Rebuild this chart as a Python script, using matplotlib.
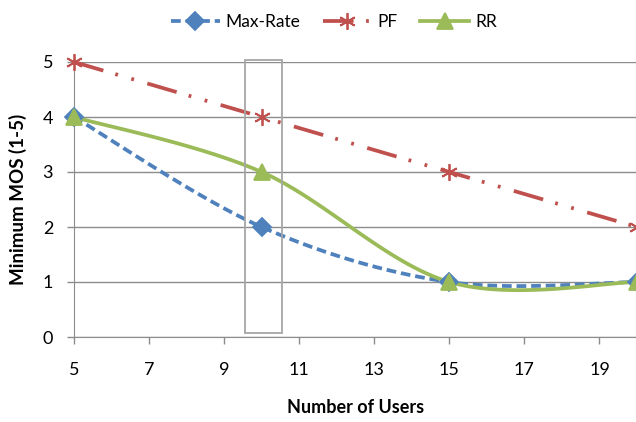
import numpy as np
import matplotlib
matplotlib.use("Agg")
import matplotlib.pyplot as plt
from matplotlib.patches import Rectangle
from matplotlib.lines import Line2D

plt.rcParams["font.family"] = ["Lato", "DejaVu Sans"]
plt.rcParams["lines.scale_dashes"] = False

users = [5, 10, 15, 20]
max_rate = [4, 2, 1, 1]
pf = [5, 4, 3, 2]
rr = [4, 3, 1, 1]
x_ticks = [5, 7, 9, 11, 13, 15, 17, 19]
y_ticks = [0, 1, 2, 3, 4, 5]

BLUE = "#4F81BD"
RED = "#C0504D"
GREEN = "#9BBB59"


def excel_smooth(x, y, n=40):
    # Excel-style smoothed line: cubic bezier segments, tangents from neighbours / 6
    p = np.column_stack([x, y]).astype(float)
    ext = np.vstack([p[0], p, p[-1]])
    out = []
    t = np.linspace(0, 1, n)[:, None]
    for i in range(len(p) - 1):
        p0, p3 = ext[i + 1], ext[i + 2]
        c1 = p0 + (ext[i + 2] - ext[i]) / 6
        c2 = p3 - (ext[i + 3] - ext[i + 1]) / 6
        seg = ((1 - t) ** 3) * p0 + 3 * ((1 - t) ** 2) * t * c1 + 3 * (1 - t) * t ** 2 * c2 + t ** 3 * p3
        out.append(seg if i == 0 else seg[1:])
    s = np.vstack(out)
    return s[:, 0], s[:, 1]


fig = plt.figure(figsize=(6.36, 4.22), dpi=100)
ax = fig.add_axes([74 / 636, 85 / 422, 563 / 636, 275 / 422])

series = [
    ("Max-Rate", max_rate, BLUE, (0, (7, 3.5)), "D", 9),
    ("PF", pf, RED, (0, (22, 9, 2, 10, 2, 10)), (6, 2, 0), 12),
    ("RR", rr, GREEN, "-", "^", 11),
]
handles = []
for name, vals, col, ls, mk, ms in series:
    sx, sy = excel_smooth(users, vals)
    ax.plot(sx, sy, color=col, lw=2.7, ls=ls, solid_capstyle="butt",
            dash_capstyle="butt", clip_on=False, zorder=3)
    ax.plot(users, vals, ls="none", marker=mk, ms=ms, color=col, mec=col,
            mew=1.3, clip_on=False, zorder=4)
    handles.append(Line2D([], [], color=col, lw=2.7, ls=ls, marker=mk,
                          ms=ms, mec=col, mew=1.3, label=name))

ax.add_patch(Rectangle((9.55, 0.07), 1.0, 4.97, fill=False, ec="#A6A6A6",
                       lw=1.3, clip_on=False, zorder=5))

ax.set_xlim(5, 20)
ax.set_ylim(0, 5)
ax.set_xticks(x_ticks)
ax.set_yticks(y_ticks)
ax.yaxis.grid(True, color="#8C8C8C", lw=1)
ax.set_axisbelow(True)
for s in ["top", "right"]:
    ax.spines[s].set_visible(False)
for s in ["left", "bottom"]:
    ax.spines[s].set_color("#8C8C8C")
ax.tick_params(colors="#8C8C8C", length=5, width=1, labelcolor="black",
               labelsize=13)
ax.tick_params(axis="x", pad=13)
ax.tick_params(axis="y", pad=10)
ax.set_xlabel("Number of Users", fontsize=13, fontweight="bold", labelpad=15)
ax.set_ylabel("Minimum MOS (1-5)", fontsize=13.5, fontweight="bold", labelpad=11)

fig.legend(handles=handles, loc="center", bbox_to_anchor=(0.525, 0.948),
           ncol=3, frameon=False, fontsize=12.5, handlelength=2.8,
           columnspacing=1.3, handletextpad=0.35)

fig.savefig("out.png", dpi=100)
